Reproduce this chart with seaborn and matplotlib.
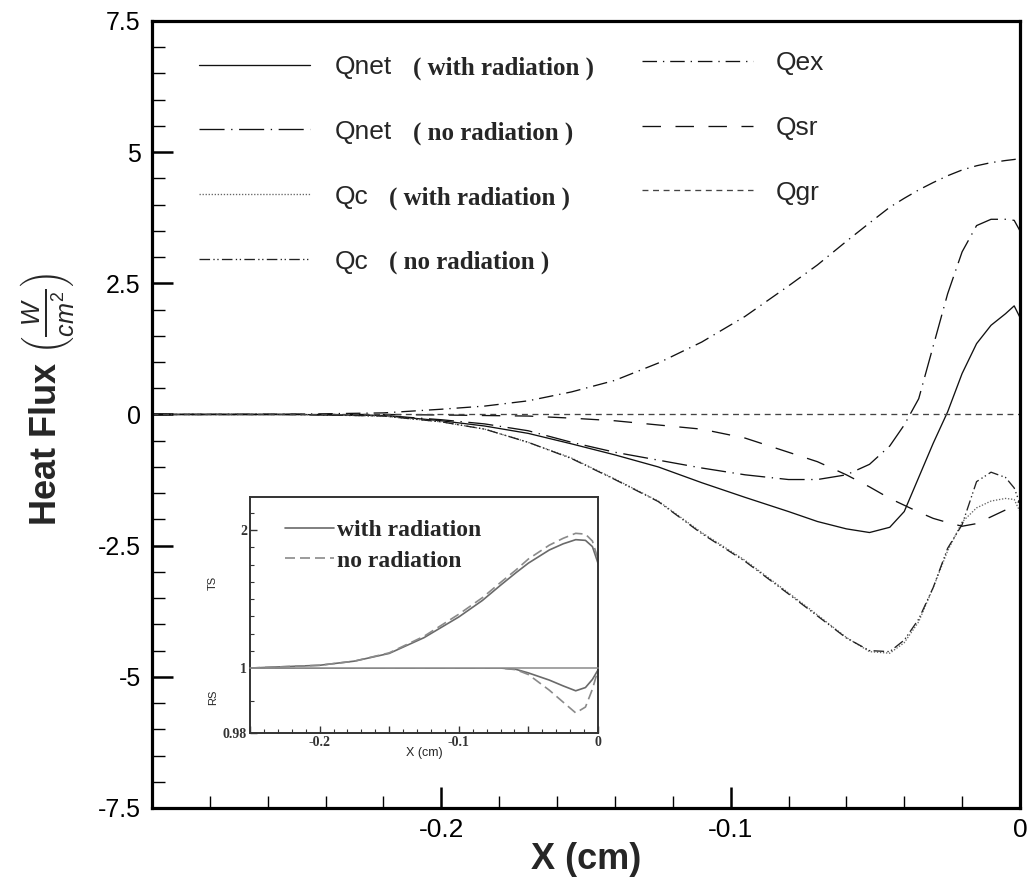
import numpy as np
import pandas as pd
import matplotlib
matplotlib.use("Agg")
import matplotlib.pyplot as plt
import seaborn as sns
from matplotlib.ticker import MultipleLocator, FixedLocator, FuncFormatter

# ---------------- data ----------------
x_main = [-0.3, -0.25, -0.22, -0.2, -0.185, -0.17, -0.155, -0.14, -0.125, -0.11,
          -0.095, -0.08, -0.07, -0.06, -0.052, -0.045, -0.04, -0.035, -0.03,
          -0.025, -0.02, -0.015, -0.01, -0.005, -0.002, 0.0]

q_net_rad = [0.0, 0.0, -0.02, -0.12, -0.22, -0.36, -0.56, -0.77, -1.0, -1.3,
             -1.58, -1.85, -2.04, -2.18, -2.25, -2.15, -1.85, -1.2, -0.55,
             0.05, 0.78, 1.35, 1.7, 1.92, 2.07, 1.85]
q_net_norad = [0.0, 0.0, -0.02, -0.1, -0.18, -0.31, -0.53, -0.72, -0.87, -1.02,
               -1.15, -1.24, -1.24, -1.15, -0.95, -0.6, -0.2, 0.3, 1.3,
               2.3, 3.1, 3.6, 3.72, 3.72, 3.7, 3.5]
q_c_rad = [0.0, 0.0, -0.03, -0.14, -0.28, -0.53, -0.83, -1.23, -1.65, -2.25,
           -2.78, -3.4, -3.82, -4.25, -4.52, -4.55, -4.35, -3.95, -3.3,
           -2.6, -2.05, -1.78, -1.65, -1.6, -1.62, -1.85]
q_c_norad = [0.0, 0.0, -0.03, -0.14, -0.28, -0.53, -0.84, -1.24, -1.66, -2.27,
             -2.8, -3.42, -3.84, -4.26, -4.5, -4.52, -4.3, -3.9, -3.3,
             -2.55, -2.1, -1.28, -1.1, -1.2, -1.4, -1.7]
q_ex = [0.0, 0.005, 0.03, 0.1, 0.16, 0.26, 0.43, 0.65, 0.98, 1.38,
        1.87, 2.45, 2.85, 3.3, 3.65, 3.95, 4.12, 4.28, 4.42,
        4.55, 4.66, 4.74, 4.8, 4.84, 4.86, 4.88]
q_sr = [0.0, 0.0, 0.0, -0.01, -0.02, -0.03, -0.07, -0.12, -0.2, -0.28,
        -0.45, -0.72, -0.9, -1.15, -1.38, -1.6, -1.73, -1.86, -1.98,
        -2.06, -2.13, -2.08, -1.95, -1.82, -1.72, -1.65]
q_gr = [0.0] * len(x_main)

series_names = ["Qnet", "Qnet", "Qc", "Qc", "Qex", "Qsr", "Qgr"]
series_notes = ["( with radiation )", "( no radiation )",
                "( with radiation )", "( no radiation )"]

x_inset = [-0.25, -0.2, -0.175, -0.15, -0.125, -0.1, -0.083, -0.07, -0.059,
           -0.05, -0.035, -0.025, -0.016, -0.009, -0.004, 0.0]
ts_rad = [1.0, 1.02, 1.05, 1.106, 1.22, 1.37, 1.49, 1.6, 1.69,
          1.76, 1.855, 1.9, 1.93, 1.925, 1.88, 1.76]
ts_norad = [1.0, 1.02, 1.05, 1.11, 1.23, 1.39, 1.51, 1.62, 1.71,
            1.79, 1.89, 1.94, 1.976, 1.97, 1.92, 1.79]
rs_rad = [1.0, 1.0, 1.0, 1.0, 1.0, 1.0, 1.0, 1.0, 0.9996,
          0.9985, 0.9963, 0.9945, 0.9930, 0.9940, 0.9965, 0.9994]
rs_norad = [1.0, 1.0, 1.0, 1.0, 1.0, 1.0, 1.0, 1.0, 0.9995,
            0.998, 0.9932, 0.9895, 0.9862, 0.9880, 0.9935, 0.9994]
inset_labels = ["with radiation", "no radiation"]

main_ticks = [-7.5, -5, -2.5, 0, 2.5, 5, 7.5]

# ---------------- style ----------------
sns.set_theme(style="white")
plt.rcParams.update({
    "font.family": ["Liberation Sans", "DejaVu Sans"],
    "axes.unicode_minus": False,
    "mathtext.fontset": "custom",
    "mathtext.rm": "Liberation Sans",
    "mathtext.it": "Liberation Sans:italic",
    "mathtext.bf": "Liberation Sans:bold",
})

LW = 0.95
styles = [
    dict(color="#111111", linewidth=LW, linestyle="-"),
    dict(color="#111111", linewidth=LW, linestyle=(0, (19, 5, 1, 5))),
    dict(color="#666666", linewidth=LW, linestyle=(0, (1, 1.3))),
    dict(color="#222222", linewidth=LW, linestyle=(0, (8, 2.5, 1, 2, 1, 2.5))),
    dict(color="#111111", linewidth=LW, linestyle=(0, (11, 4.5, 1, 4.5))),
    dict(color="#111111", linewidth=LW, linestyle=(0, (14, 11))),
    dict(color="#444444", linewidth=LW, linestyle=(0, (4.5, 3.5))),
]

fig = plt.figure(figsize=(10.31, 8.88), dpi=100)
ax = fig.add_axes([0.1474, 0.0901, 0.8419, 0.8863])

all_series = [q_net_rad, q_net_norad, q_c_rad, q_c_norad, q_ex, q_sr, q_gr]
handles = []
for vals, st in zip(all_series, styles):
    sns.lineplot(x=x_main, y=vals, ax=ax, legend=False, estimator=None,
                 sort=False, **st)
    handles.append(ax.lines[-1])

ax.set_xlim(-0.3, 0.0)
ax.set_ylim(-7.5, 7.5)
ax.xaxis.set_major_locator(FixedLocator([-0.2, -0.1, 0.0]))
ax.xaxis.set_minor_locator(MultipleLocator(0.02))
ax.xaxis.set_major_formatter(FuncFormatter(lambda v, p: "0" if abs(v) < 1e-9 else "%g" % round(v, 3)))
ax.yaxis.set_major_locator(FixedLocator(main_ticks))
ax.yaxis.set_minor_locator(MultipleLocator(0.5))
ax.yaxis.set_major_formatter(FuncFormatter(lambda v, p: "0" if abs(v) < 1e-9 else "%g" % v))

for s in ax.spines.values():
    s.set_linewidth(2.3)
    s.set_color("black")
ax.tick_params(which="both", direction="in", left=True, bottom=True,
               top=False, right=False, colors="black")
ax.tick_params(which="major", length=15, width=1.8, labelsize=18, pad=8)
ax.tick_params(which="minor", length=9, width=1.0)
ax.tick_params(axis="x", which="major", pad=7, labelsize=19)

ax.set_xlabel("X (cm)", fontsize=26, fontweight="bold", labelpad=0)
ax.set_ylabel(r"Heat Flux $\left(\frac{W}{cm^2}\right)$", fontsize=26,
              fontweight="bold")
ax.yaxis.set_label_coords(-0.088, 0.519)

# ---------------- legends ----------------
leg1 = ax.legend(handles=handles[:4], labels=series_names[:4], loc="upper left",
                 bbox_to_anchor=(0.054, 0.957), frameon=False, fontsize=19,
                 handlelength=4.2, handletextpad=0.95, labelspacing=1.55,
                 borderpad=0, borderaxespad=0)
ax.add_artist(leg1)
for t, note in zip(leg1.get_texts(), series_notes):
    ax.annotate(note, xy=(1, 0.45), xycoords=t, xytext=(15, 0),
                textcoords="offset points", va="center", ha="left",
                family="Liberation Serif", fontweight="bold", fontsize=18,
                zorder=10)
leg2 = ax.legend(handles=handles[4:], labels=series_names[4:], loc="upper left",
                 bbox_to_anchor=(0.565, 0.962), frameon=False, fontsize=19,
                 handlelength=4.2, handletextpad=0.85, labelspacing=1.55,
                 borderpad=0, borderaxespad=0)

# ---------------- inset ----------------
ax_ts = fig.add_axes([0.2425, 0.2477, 0.3375, 0.1926])
ax_rs = fig.add_axes([0.2425, 0.1745, 0.3375, 0.0732], sharex=ax_ts)

inset_styles = [dict(color="#6a6a6a", linewidth=1.2, linestyle="-"),
                dict(color="#8a8a8a", linewidth=1.2, linestyle=(0, (6, 3)))]
ts_handles = []
for vals, st in zip([ts_rad, ts_norad], inset_styles):
    sns.lineplot(x=x_inset, y=vals, ax=ax_ts, legend=False, estimator=None,
                 sort=False, **st)
    ts_handles.append(ax_ts.lines[-1])
for vals, st in zip([rs_rad, rs_norad], inset_styles):
    sns.lineplot(x=x_inset, y=vals, ax=ax_rs, legend=False, estimator=None,
                 sort=False, **st)

for a in (ax_ts, ax_rs):
    a.set_facecolor("white")
    for s in a.spines.values():
        s.set_linewidth(1.4)
        s.set_color("#333333")
    a.tick_params(which="both", direction="in", left=True, bottom=True,
                  top=False, right=False, colors="#333333")
    a.tick_params(which="major", length=5, width=1.0, labelsize=10, pad=2)
    a.tick_params(which="minor", length=3, width=0.8)

ax_ts.spines["bottom"].set_visible(False)
ax_ts.tick_params(axis="x", which="both", bottom=False, labelbottom=False)
ax_rs.spines["top"].set_color("#8a8a8a")
ax_rs.spines["top"].set_linewidth(1.1)

ax_ts.set_xlim(-0.25, 0.0)
ax_ts.set_ylim(1.0, 2.239)
ax_ts.yaxis.set_major_locator(FixedLocator([1.0, 2.0]))
ax_ts.yaxis.set_minor_locator(MultipleLocator(0.125))
ax_ts.yaxis.set_major_formatter(FuncFormatter(lambda v, p: "%g" % v))
ax_rs.set_ylim(0.98, 1.0)
ax_rs.yaxis.set_major_locator(FixedLocator([0.98]))
ax_rs.yaxis.set_minor_locator(FixedLocator([0.99]))
ax_rs.yaxis.set_major_formatter(FuncFormatter(lambda v, p: "%g" % v))
ax_rs.xaxis.set_major_locator(MultipleLocator(0.05))
ax_rs.xaxis.set_minor_locator(MultipleLocator(0.01))


def inset_xfmt(v, p):
    if abs(v) < 1e-9:
        return "0"
    if abs(v / 0.1 - round(v / 0.1)) < 1e-6:
        return "%g" % round(v, 3)
    return ""


ax_rs.xaxis.set_major_formatter(FuncFormatter(inset_xfmt))
for a in (ax_ts, ax_rs):
    for lab in a.get_xticklabels() + a.get_yticklabels():
        lab.set_family("Liberation Serif")
        lab.set_fontweight("bold")
        lab.set_fontsize(10)

ax_ts.set_xlabel("")
ax_rs.set_xlabel("X (cm)", fontsize=9, labelpad=-1)
ax_ts.set_ylabel("TS", fontsize=8)
ax_rs.set_ylabel("RS", fontsize=8)
ax_ts.yaxis.set_label_coords(-0.092, 0.5)
ax_rs.yaxis.set_label_coords(-0.092, 0.55)

ax_ts.legend(handles=ts_handles, labels=inset_labels, loc="upper left",
             bbox_to_anchor=(0.1, 0.87), frameon=False,
             prop=dict(family="Liberation Serif", weight="bold", size=17),
             handlelength=2.1, handletextpad=0.1, labelspacing=0.4,
             borderpad=0, borderaxespad=0)

fig.savefig("out.png", dpi=100)
